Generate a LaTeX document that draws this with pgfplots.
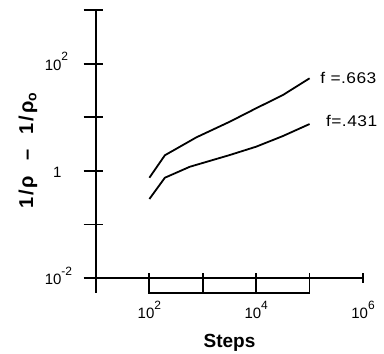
\documentclass[border=0pt]{standalone}
\usepackage{pgfplots}
\pgfplotsset{compat=1.18}
\usepackage{fontspec}
\setmainfont{Liberation Sans}
\newcommand\xsup[1]{\raisebox{0.62em}{\fontsize{12}{12}\selectfont #1}}
\newcommand\ysup[1]{\rlap{\xsup{#1}}}
\begin{document}
\begin{tikzpicture}
\begin{loglogaxis}[
  scale only axis, width=267pt, height=268pt,
  xmin=10, xmax=1e6, ymin=1e-2, ymax=1e3,
  axis lines=left, axis line style={-, line width=2pt},
  clip=false,
  xminorticks=false, yminorticks=false,
  xtick={100,1000,10000,100000,1000000},
  xticklabels={10\xsup{2},,10\xsup{4},,10\xsup{6}},
  ytick={0.01,0.1,1,10,100,1000},
  yticklabels={10\ysup{-2},,1,,10\ysup{2},},
  tick align=center,
  major tick length=10pt,
  xtick style={line width=1.8pt, black},
  ytick style={line width=1.8pt, black, /pgfplots/major tick length=20pt, xshift=-2.5pt},
  xticklabel style={anchor=base, yshift=-36pt, font=\fontsize{15}{15}\selectfont},
  yticklabel style={anchor=base east, xshift=-26pt, yshift=-6.5pt, font=\fontsize{15}{15}\selectfont},
  xlabel={\textbf{Steps}},
  xlabel style={at={(axis description cs:0.5,-0.2425)}, anchor=center, font=\fontsize{19}{19}\selectfont},
  ylabel={\addfontfeatures{LetterSpace=10}\textbf{1/ρ\ \ –\ \ 1/ρ\textsubscript{o}}},
  ylabel style={at={(axis description cs:-0.2547,0.476)}, anchor=center, font=\fontsize{20}{20}\selectfont},
]
\addplot[black, line width=1.8pt] coordinates {
  (100,0.743) (195,1.95) (762,4.22) (3200,8.24) (10000,14.7) (31600,25.9) (100000,53.2)};
\addplot[black, line width=1.8pt] coordinates {
  (100,0.298) (195,0.743) (572,1.19) (3200,1.97) (10000,2.82) (31600,4.45) (100000,7.46)};
% lower bracket below the x axis
\addplot[black, line width=1.8pt] coordinates {
  (100,0.01) (100,0.00532) (100000,0.00532) (100000,0.01)};
\addplot[black, line width=1.8pt] coordinates {(1000,0.01) (1000,0.00532)};
\addplot[black, line width=1.8pt] coordinates {(10000,0.01) (10000,0.00532)};
\addplot[black, line width=2pt] coordinates {(10,0.01) (10,0.00532)};
\node[anchor=west, inner sep=0pt, font=\fontsize{15.5}{16}\selectfont] at (axis cs:1.58e5,53.8) {\addfontfeatures{FakeStretch=1.12,LetterSpace=3}f =.663};
\node[anchor=west, inner sep=0pt, font=\fontsize{15.5}{16}\selectfont] at (axis cs:2.02e5,8.5) {\addfontfeatures{FakeStretch=1.12,LetterSpace=3}f=.431};
\end{loglogaxis}
\pgfresetboundingbox
\path[use as bounding box] (-96pt,-76pt) rectangle (288pt,278pt);
\end{tikzpicture}
\end{document}
